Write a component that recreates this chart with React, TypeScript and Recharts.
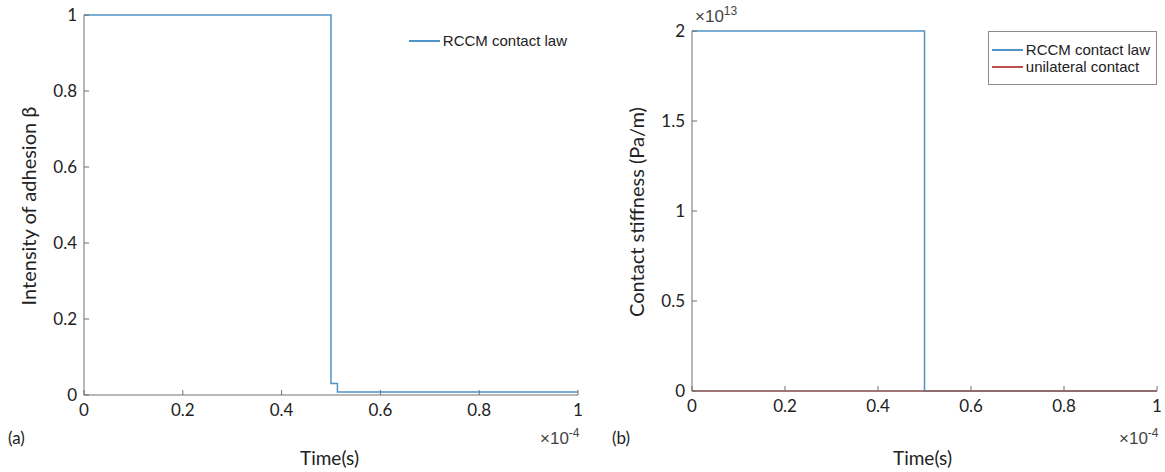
import React from "react";
import { LineChart, Line, XAxis, YAxis, Legend } from "recharts";

// time in units of 1e-4 s
const timeTicks = [0, 0.2, 0.4, 0.6, 0.8, 1];
const betaTicks = [0, 0.2, 0.4, 0.6, 0.8, 1];
const stiffTicks = [0, 0.5, 1, 1.5, 2];

// (a) adhesion intensity, RCCM contact law
const betaTime = [0, 0.5, 0.5, 0.513, 0.513, 1];
const betaValue = [1, 1, 0.03, 0.03, 0.008, 0.008];

// (b) contact stiffness in units of 1e13 Pa/m
const rccmTime = [0, 0.5, 0.5, 1];
const rccmStiff = [2, 2, 0, 0];
const uniTime = [0, 1];
const uniStiff = [0, 0];

const BLUE = "#4f94c4";
const RED = "#c0504d";
const AXIS = "#707070";
const TICK_FONT = "Lato, 'Open Sans', sans-serif";
const LEG_FONT = "'Liberation Sans', Arial, sans-serif";

const betaData = betaTime.map((t, i) => ({ t, v: betaValue[i] }));
const rccmData = rccmTime.map((t, i) => ({ t, v: rccmStiff[i] }));
const uniData = uniTime.map((t, i) => ({ t, v: uniStiff[i] }));

const tickStyle = { fontSize: 17, fill: "#222", fontFamily: TICK_FONT };

function LegendBox({ items, border }: { items: { name: string; color: string }[]; border: boolean }) {
  return (
    <div
      style={{
        background: "#fff",
        border: border ? "1px solid #8c8c8c" : "1px solid transparent",
        padding: "9px 6px 9px 3px",
        fontFamily: LEG_FONT,
        fontSize: 15,
        color: "#222",
      }}
    >
      {items.map((it) => (
        <div key={it.name} style={{ display: "flex", alignItems: "center", height: 17 }}>
          <div style={{ width: 31, height: 2, background: it.color, marginRight: 3 }} />
          <span>{it.name}</span>
        </div>
      ))}
    </div>
  );
}

const txt: React.CSSProperties = {
  position: "absolute",
  fontFamily: TICK_FONT,
  color: "#222",
  whiteSpace: "nowrap",
};

export default function App() {
  return (
    <div style={{ position: "absolute", left: 0, top: 0, width: 1165, height: 472, background: "#fff", overflow: "hidden" }}>
      {/* (a) */}
      <div style={{ position: "absolute", left: 0, top: 0 }}>
        <LineChart width={600} height={472} data={betaData} margin={{ top: 15, right: 22, left: 0, bottom: 0 }}>
          <XAxis
            xAxisId="b"
            dataKey="t"
            type="number"
            domain={[0, 1]}
            ticks={timeTicks}
            height={77}
            stroke={AXIS}
            tickSize={-5}
            tickMargin={14}
            tick={tickStyle}
            interval={0}
          />
          <XAxis xAxisId="top" dataKey="t" type="number" domain={[0, 1]} ticks={timeTicks} orientation="top" height={0} stroke={AXIS} tickSize={-5} tick={false} />
          <YAxis
            yAxisId="l"
            type="number"
            domain={[0, 1]}
            ticks={betaTicks}
            width={84}
            stroke={AXIS}
            tickSize={-5}
            tickMargin={12}
            tick={tickStyle}
            interval={0}
          />
          <YAxis yAxisId="r" type="number" domain={[0, 1]} ticks={betaTicks} orientation="right" width={0} stroke={AXIS} tickSize={-5} tick={false} />
          <Legend
            layout="horizontal"
            verticalAlign="middle"
            align="center"
            wrapperStyle={{ top: 22, right: 26, left: "auto", width: "auto" }}
            content={() => <LegendBox border={false} items={[{ name: "RCCM contact law", color: BLUE }]} />}
          />
          <Line xAxisId="b" yAxisId="l" dataKey="v" stroke={BLUE} strokeWidth={1.5} dot={false} isAnimationActive={false} name="RCCM contact law" />
        </LineChart>
      </div>
      <div style={{ ...txt, left: 28, top: 206, fontSize: 20, transform: "translate(-50%, -50%) rotate(-90deg)" }}>
        Intensity of adhesion β
      </div>
      <div style={{ ...txt, left: 300, top: 446, fontSize: 19 }}>Time(s)</div>
      <div style={{ ...txt, left: 8, top: 427, fontSize: 17 }}>(a)</div>
      <div style={{ ...txt, left: 540, top: 426, fontSize: 17, fontFamily: LEG_FONT, color: "#444" }}>
        ×10<sup style={{ fontSize: 12 }}>-4</sup>
      </div>

      {/* (b) */}
      <div style={{ position: "absolute", left: 605, top: 0 }}>
        <LineChart width={560} height={472} margin={{ top: 31, right: 8, left: 0, bottom: 0 }}>
          <XAxis
            xAxisId="b"
            dataKey="t"
            type="number"
            domain={[0, 1]}
            ticks={timeTicks}
            height={81}
            stroke={AXIS}
            tickSize={-5}
            tickMargin={14}
            tick={tickStyle}
            interval={0}
            allowDuplicatedCategory={false}
          />
          <XAxis xAxisId="top" dataKey="t" type="number" domain={[0, 1]} ticks={timeTicks} orientation="top" height={0} stroke={AXIS} tickSize={-5} tick={false} />
          <YAxis
            yAxisId="l"
            type="number"
            domain={[0, 2]}
            ticks={stiffTicks}
            width={87}
            stroke={AXIS}
            tickSize={-5}
            tickMargin={12}
            tick={tickStyle}
            interval={0}
          />
          <YAxis yAxisId="r" type="number" domain={[0, 2]} ticks={stiffTicks} orientation="right" width={0} stroke={AXIS} tickSize={-5} tick={false} />
          <Legend
            layout="horizontal"
            verticalAlign="middle"
            align="center"
            wrapperStyle={{ top: 31, right: 8, left: "auto", width: "auto" }}
            content={() => (
              <LegendBox
                border={true}
                items={[
                  { name: "RCCM contact law", color: BLUE },
                  { name: "unilateral contact", color: RED },
                ]}
              />
            )}
          />
          <Line xAxisId="b" yAxisId="l" data={rccmData} dataKey="v" stroke={BLUE} strokeWidth={1.5} dot={false} isAnimationActive={false} name="RCCM contact law" />
          <Line xAxisId="b" yAxisId="l" data={uniData} dataKey="v" stroke={RED} strokeWidth={1.5} dot={false} isAnimationActive={false} name="unilateral contact" />
        </LineChart>
      </div>
      <div style={{ ...txt, left: 636, top: 212, fontSize: 20, transform: "translate(-50%, -50%) rotate(-90deg)" }}>
        Contact stiffness (Pa/m)
      </div>
      <div style={{ ...txt, left: 695, top: 4, fontSize: 17, fontFamily: LEG_FONT, color: "#444" }}>
        ×10<sup style={{ fontSize: 12 }}>13</sup>
      </div>
      <div style={{ ...txt, left: 893, top: 446, fontSize: 19 }}>Time(s)</div>
      <div style={{ ...txt, left: 612, top: 427, fontSize: 17 }}>(b)</div>
      <div style={{ ...txt, left: 1119, top: 426, fontSize: 17, fontFamily: LEG_FONT, color: "#444" }}>
        ×10<sup style={{ fontSize: 12 }}>-4</sup>
      </div>
    </div>
  );
}
